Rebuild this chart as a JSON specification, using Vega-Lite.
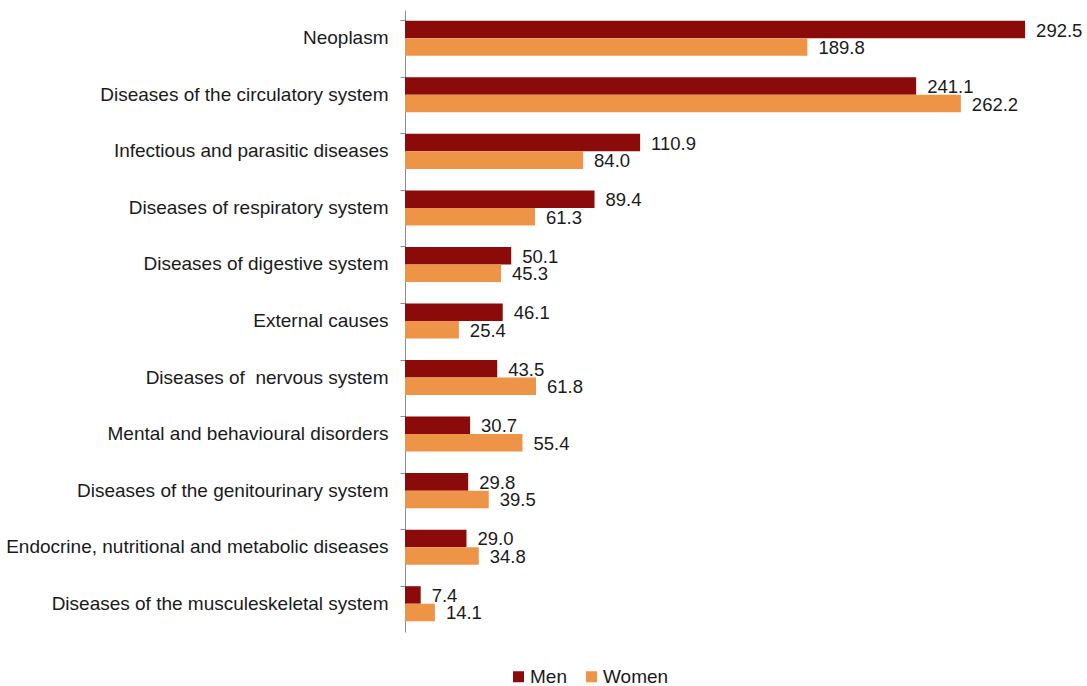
{
  "$schema": "https://vega.github.io/schema/vega-lite/v6.json",
  "autosize": "none",
  "width": 636,
  "height": 622,
  "padding": {"left": 405, "top": 10, "right": 46, "bottom": 54},
  "background": "white",
  "config": {
    "view": {"stroke": null},
    "font": "Liberation Sans"
  },
  "data": {
    "values": [
      {"cause": "Neoplasm", "sex": "Men", "value": 292.5},
      {"cause": "Neoplasm", "sex": "Women", "value": 189.8},
      {"cause": "Diseases of the circulatory system", "sex": "Men", "value": 241.1},
      {"cause": "Diseases of the circulatory system", "sex": "Women", "value": 262.2},
      {"cause": "Infectious and parasitic diseases", "sex": "Men", "value": 110.9},
      {"cause": "Infectious and parasitic diseases", "sex": "Women", "value": 84.0},
      {"cause": "Diseases of respiratory system", "sex": "Men", "value": 89.4},
      {"cause": "Diseases of respiratory system", "sex": "Women", "value": 61.3},
      {"cause": "Diseases of digestive system", "sex": "Men", "value": 50.1},
      {"cause": "Diseases of digestive system", "sex": "Women", "value": 45.3},
      {"cause": "External causes", "sex": "Men", "value": 46.1},
      {"cause": "External causes", "sex": "Women", "value": 25.4},
      {"cause": "Diseases of\u00a0 nervous system", "sex": "Men", "value": 43.5},
      {"cause": "Diseases of\u00a0 nervous system", "sex": "Women", "value": 61.8},
      {"cause": "Mental and behavioural disorders", "sex": "Men", "value": 30.7},
      {"cause": "Mental and behavioural disorders", "sex": "Women", "value": 55.4},
      {"cause": "Diseases of the genitourinary system", "sex": "Men", "value": 29.8},
      {"cause": "Diseases of the genitourinary system", "sex": "Women", "value": 39.5},
      {"cause": "Endocrine, nutritional and metabolic diseases", "sex": "Men", "value": 29.0},
      {"cause": "Endocrine, nutritional and metabolic diseases", "sex": "Women", "value": 34.8},
      {"cause": "Diseases of the musculeskeletal system", "sex": "Men", "value": 7.4},
      {"cause": "Diseases of the musculeskeletal system", "sex": "Women", "value": 14.1}
    ]
  },
  "encoding": {
    "y": {
      "field": "cause",
      "type": "nominal",
      "sort": null,
      "scale": {"paddingInner": 0.38, "paddingOuter": 0.19},
      "axis": {
        "title": null,
        "bandPosition": 0,
        "labelFontSize": 19,
        "labelColor": "#1a1a1a",
        "labelPadding": 12,
        "labelLimit": 400,
        "tickSize": 5,
        "tickColor": "#8c8c8c",
        "domainColor": "#8c8c8c",
        "tickWidth": 1,
        "domainWidth": 1
      }
    },
    "yOffset": {"field": "sex", "type": "nominal", "sort": ["Men", "Women"]},
    "x": {
      "field": "value",
      "type": "quantitative",
      "scale": {"domain": [0, 300], "nice": false},
      "axis": null
    }
  },
  "layer": [
    {
      "mark": {"type": "bar"},
      "encoding": {
        "color": {
          "field": "sex",
          "type": "nominal",
          "scale": {"domain": ["Men", "Women"], "range": ["#8b0a0a", "#ee9447"]},
          "legend": {
            "title": null,
            "orient": "none",
            "direction": "horizontal",
            "legendX": 104,
            "legendY": 657,
            "symbolType": "square",
            "symbolSize": 121,
            "symbolStrokeWidth": 0,
            "symbolOpacity": 1,
            "labelFontSize": 19,
            "labelColor": "#1a1a1a",
            "labelOffset": 2,
            "columnPadding": 15
          }
        }
      }
    },
    {
      "mark": {"type": "text", "align": "left", "baseline": "middle", "dx": 11, "dy": 1, "fontSize": 18.5, "color": "#1a1a1a"},
      "encoding": {
        "text": {"field": "value", "type": "quantitative", "format": ".1f"}
      }
    }
  ]
}
